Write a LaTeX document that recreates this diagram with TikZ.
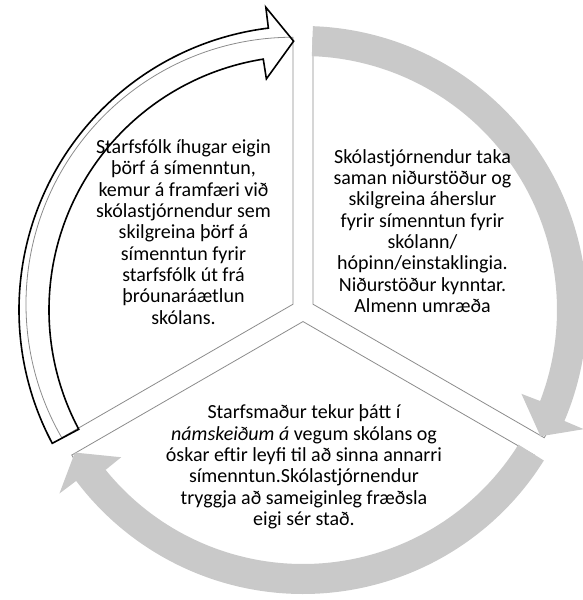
\documentclass[tikz,border=0pt]{standalone}
\usepackage{fontspec}
\setmainfont{Carlito}
\usepackage{tikz}
\usetikzlibrary{calc}

\begin{document}
\begin{tikzpicture}[x=1pt,y=1pt,
      seg/.style={draw=black!45,line width=0.8pt,fill=white},
      grayarrow/.style={fill=black!21,draw=none},
      whitearrow/.style={draw=black,line width=1.6pt,line join=miter},
      txt/.style={align=center,inner sep=0pt,
        font=\fontsize{20}{21.3}\selectfont}]
      \useasboundingbox (-303,-290) rectangle (280,310);

      \draw[seg] (150:11.55) -- ++(90:267) arc[start angle=90,end angle=210,radius=267pt] -- cycle;
      \draw[seg] (30:11.55) -- ++(-30:267) arc[start angle=-30,end angle=90,radius=267pt] -- cycle;
      \draw[seg] (270:11.55) -- ++(210:267) arc[start angle=210,end angle=330,radius=267pt] -- cycle;

      \fill[grayarrow] (88:284) arc[start angle=88,end angle=-23,radius=284pt]
        -- (-23:305) -- (-28:269) -- (-21:234) -- (-21:254)
        arc[start angle=-21,end angle=88,radius=254pt] -- cycle;
      \fill[grayarrow] (-32:284) arc[start angle=-32,end angle=-143,radius=284pt]
        -- (-143:305) -- (-148:269) -- (-141:234) -- (-141:254)
        arc[start angle=-141,end angle=-32,radius=254pt] -- cycle;
      \draw[whitearrow] (208:284) arc[start angle=208,end angle=97,radius=284pt]
        -- (97:305) -- (92:269) -- (99:234) -- (99:254)
        arc[start angle=99,end angle=208,radius=254pt] -- cycle;

      \node[txt] (t0) at (-119.5,78) {Starfsfólk íhugar eigin\\ þörf á símenntun,\\
        kemur á framfæri við\\ skólastjórnendur sem\\ skilgreina þörf á\\
        símenntun fyrir\\ starfsfólk út frá\\ þróunaráætlun\\ skólans.};
      \node[txt] (t1) at (119.5,79) {Skólastjórnendur taka\\ saman niðurstöður og\\
        skilgreina áherslur\\ fyrir símenntun fyrir\\ skólann/\\
        hópinn/einstaklingia.\\ Niðurstöður kynntar.\\ Almenn umræða};
      \node[txt] (t2) at (1,-157) {Starfsmaður tekur þátt í\\
        \textit{námskeiðum á} vegum skólans og\\ óskar eftir leyfi til að sinna annarri\\
        símenntun.Skólastjórnendur\\ tryggja að sameiginleg fræðsla\\ eigi sér stað.};
\end{tikzpicture}
\end{document}
